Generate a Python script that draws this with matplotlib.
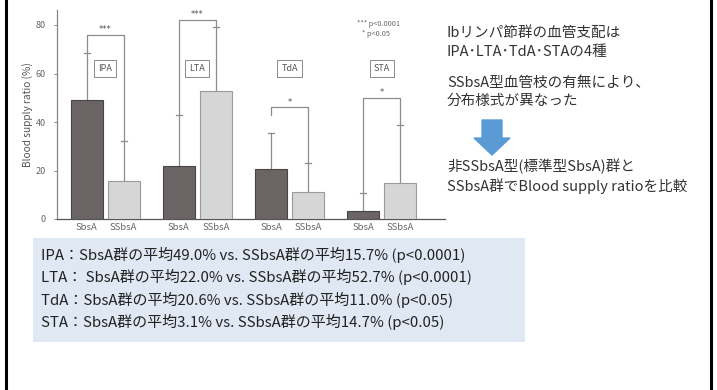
import matplotlib
matplotlib.use('Agg')
import matplotlib.pyplot as plt
from matplotlib.patches import Rectangle, FancyArrow

plt.rcParams['font.family'] = ['Noto Sans CJK JP', 'DejaVu Sans']

# blood supply ratio (%) per artery, mean and upper SD
ARTERIES = ['IPA', 'LTA', 'TdA', 'STA']
GROUPS = ['SbsA', 'SSbsA']
SBSA_MEAN = [49.0, 22.0, 20.6, 3.1]
SSBSA_MEAN = [15.7, 52.7, 11.0, 14.7]
SBSA_SD = [19.5, 21.0, 15.0, 7.5]
SSBSA_SD = [16.5, 26.5, 12.0, 24.0]
SIG_MARKS = ['***', '***', '*', '*']
BRACKET_TOP = [76, 82, 46, 50]

SIDE_LINES = ['Ibリンパ節群の血管支配は', 'IPA･LTA･TdA･STAの4種',
              'SSbsA型血管枝の有無により、', '分布様式が異なった',
              '非SSbsA型(標準型SbsA)群と', 'SSbsA群でBlood supply ratioを比較']
SUMMARY_LINES = [
    'IPA：SbsA群の平均49.0% vs. SSbsA群の平均15.7% (p<0.0001)',
    'LTA： SbsA群の平均22.0% vs. SSbsA群の平均52.7% (p<0.0001)',
    'TdA：SbsA群の平均20.6% vs. SSbsA群の平均11.0% (p<0.05)',
    'STA：SbsA群の平均3.1% vs. SSbsA群の平均14.7% (p<0.05)',
]

W, H = 717, 390
fig = plt.figure(figsize=(W / 100, H / 100), dpi=100)


def fx(px):
    return px / W


def fy(py):
    return 1 - py / H


# slide frame
fig.add_artist(plt.Line2D([fx(6), fx(6)], [0, 1], color='black', lw=2.2))
fig.add_artist(plt.Line2D([fx(711), fx(711)], [0, 1], color='black', lw=2.2))

# bar chart
ax = fig.add_axes([fx(57), fy(219), fx(445) - fx(57), (219 - 10) / H])
ymax = 209 / 2.425
ax.set_ylim(0, ymax)
ax.set_xlim(57, 445)

gray = '#8c8c8c'
dark = '#6b6464'
light = '#d6d6d6'
half = 18.5
bw = 32
for i, art in enumerate(ARTERIES):
    c = 105 + 92.3 * i
    xs = [c - half, c + half]
    means = [SBSA_MEAN[i], SSBSA_MEAN[i]]
    sds = [SBSA_SD[i], SSBSA_SD[i]]
    ax.bar(xs[0], means[0], width=bw, color=dark, edgecolor='#4a4444', lw=0.8, zorder=3)
    ax.bar(xs[1], means[1], width=bw, color=light, edgecolor='#9a9a9a', lw=0.8, zorder=3)
    tops = []
    for x, m, s in zip(xs, means, sds):
        ax.plot([x, x], [m, m + s], color=gray, lw=0.9, zorder=2)
        ax.plot([x - 3, x + 3], [m + s, m + s], color=gray, lw=0.9, zorder=2)
        tops.append(m + s)
    # significance bracket
    bt = BRACKET_TOP[i]
    left_end = tops[0] if i != 2 else bt - 3
    ax.plot([xs[0], xs[0], xs[1], xs[1]], [left_end, bt, bt, tops[1]],
            color=gray, lw=0.9, zorder=2)
    ax.text(c, bt + 0.3, SIG_MARKS[i], ha='center', va='bottom', fontsize=6,
            color='#555555', family='DejaVu Sans')
    ax.text(c, 62, art, ha='center', va='center', fontsize=6.5, color='#555555',
            bbox=dict(boxstyle='square,pad=0.45', fc='white', ec='#8a8a8a', lw=0.7))
    for x, g in zip(xs, GROUPS):
        ax.text(x, -1.8, g, ha='center', va='top', fontsize=6.8, color='#666666')

ax.text(357, 80.5, '*** p<0.0001', fontsize=5.3, color='#666666', ha='left', va='center')
ax.text(362, 76.3, '* p<0.05', fontsize=5.3, color='#666666', ha='left', va='center')

for s in ['top', 'right']:
    ax.spines[s].set_visible(False)
ax.spines['left'].set_color('#888888')
ax.spines['bottom'].set_color('#555555')
ax.spines['left'].set_linewidth(0.9)
ax.spines['bottom'].set_linewidth(0.9)
ax.set_xticks([])
ax.set_yticks([0, 20, 40, 60, 80])
ax.tick_params(axis='y', labelsize=6.5, labelcolor='#666666', colors='#888888',
               length=2, width=0.7, pad=6)
ax.set_ylabel('Blood supply ratio (%)', fontsize=7.3, color='#555555', labelpad=2)
ax.patch.set_alpha(0)

# explanation text on the right
side_y = [33, 52, 83, 101, 166, 186]
for t, y in zip(SIDE_LINES, side_y):
    fig.text(fx(447), fy(y), t, fontsize=10.5, color='#333333', ha='left', va='center')

fig.add_artist(FancyArrow(fx(492), fy(120), 0, -(35 / H), width=20 / W,
                          head_width=36 / W, head_length=17 / H,
                          length_includes_head=True, color='#5b9bd5',
                          transform=fig.transFigure))

# summary box
fig.add_artist(Rectangle((fx(33), fy(342)), fx(525) - fx(33), (342 - 238) / H,
                         transform=fig.transFigure, fc='#dfe8f3', ec='none'))
for t, y in zip(SUMMARY_LINES, [255, 277, 300, 322]):
    fig.text(fx(41), fy(y), t, fontsize=10.8, color='#222222', ha='left', va='center')

fig.savefig('out.png', dpi=100)
